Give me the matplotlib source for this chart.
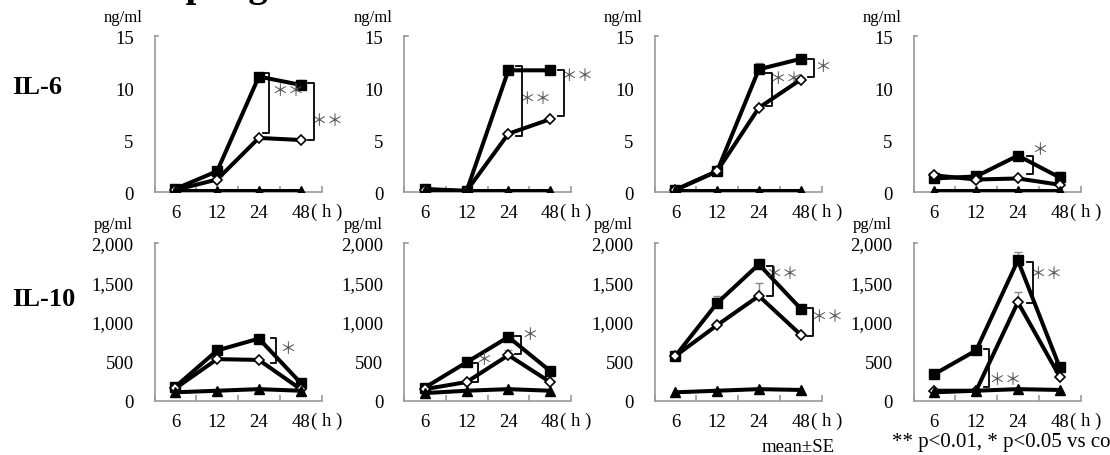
import matplotlib
matplotlib.use("Agg")
import matplotlib.pyplot as plt
from matplotlib.ticker import FuncFormatter

plt.rcParams['font.family'] = ['Liberation Serif', 'DejaVu Serif']

# ---- data ----
hours = ['6', '12', '24', '48']

# IL-6 (ng/ml), four conditions
il6_sq = [[0.3, 2.0, 11.1, 10.3], [0.3, 0.1, 11.7, 11.7],
          [0.2, 2.0, 11.8, 12.8], [1.3, 1.5, 3.5, 1.4]]
il6_dia = [[0.2, 1.2, 5.2, 5.0], [0.2, 0.1, 5.6, 7.0],
           [0.2, 2.0, 8.1, 10.8], [1.6, 1.2, 1.3, 0.7]]
il6_tri = [[0.1, 0.1, 0.1, 0.1], [0.1, 0.1, 0.1, 0.1],
           [0.1, 0.1, 0.1, 0.1], [0.1, 0.1, 0.1, 0.1]]
il6_sq_err = [[0, 0, 0, 0.5], [0, 0, 0, 0], [0, 0, 0.6, 0], [0, 0, 0, 0.5]]
il6_dia_err = [[0, 0, 0, 0], [0, 0, 0, 0], [0, 0, 0, 0], [0, 0, 0, 0]]

# IL-10 (pg/ml)
il10_sq = [[180, 640, 790, 230], [170, 490, 810, 380],
           [570, 1240, 1730, 1170], [340, 640, 1780, 430]]
il10_dia = [[160, 530, 520, 150], [150, 240, 580, 240],
            [570, 960, 1330, 840], [130, 130, 1250, 310]]
il10_tri = [[110, 130, 150, 130], [100, 130, 150, 130],
            [110, 130, 150, 140], [110, 130, 150, 140]]
il10_sq_err = [[0, 0, 0, 0], [0, 0, 0, 0], [0, 90, 0, 0], [0, 0, 110, 0]]
il10_dia_err = [[0, 0, 0, 0], [0, 0, 70, 0], [0, 40, 160, 0], [0, 0, 130, 0]]

# significance brackets: (panel, x, y_low, y_high, label, label_x, label_y)
il6_sig = [(0, 2.75, 5.65, 11.4, '＊＊', 3.19, 9.8),
           (0, 3.81, 5.03, 10.5, '＊＊', 4.14, 6.9),
           (1, 2.82, 5.4, 12.1, '＊＊', 3.14, 9.0),
           (1, 3.84, 7.3, 11.7, '＊＊', 4.14, 11.25),
           (2, 2.82, 8.3, 11.4, '＊＊', 3.14, 10.96),
           (2, 3.82, 11.1, 12.8, '＊', 4.02, 12.1),
           (3, 2.86, 1.7, 3.5, '＊', 3.02, 4.1)]
il10_sig = [(0, 2.92, 480, 800, '＊', 3.2, 667),
            (1, 1.78, 245, 480, '＊', 1.9, 530),
            (1, 2.80, 600, 827, '＊', 3.02, 848),
            (2, 2.83, 1333, 1713, '＊＊', 3.06, 1616),
            (2, 3.79, 827, 1177, '＊＊', 4.14, 1067),
            (3, 2.86, 1240, 1755, '＊＊', 3.17, 1620),
            (3, 1.82, 173, 658, '＊＊', 2.19, 278)]

W, H = 1110, 456
fig = plt.figure(figsize=(W / 100, H / 100), dpi=100)

lefts = [154.5, 404, 654.5, 913.5]
pw = 167
grey = '#9a9a9a'
fs = 13.5


def px_ax(left, top, bottom):
    return fig.add_axes([left / W, 1 - bottom / H, pw / W, (bottom - top) / H])


def draw_panel(ax, sq, dia, tri, sq_err, dia_err, ymax, yticks, unit, unit_dx,
               sigs, idx):
    xs = [i + 0.5 for i in range(len(hours))]
    ax.errorbar(xs, sq, yerr=[[0] * 4, sq_err], fmt='none', ecolor='#888888',
                elinewidth=1, capsize=3, zorder=1)
    ax.errorbar(xs, dia, yerr=[[0] * 4, dia_err], fmt='none', ecolor='#888888',
                elinewidth=1, capsize=3, zorder=1)
    ax.plot(xs, sq, color='black', lw=2.9, marker='s', ms=7.2, mfc='black',
            mec='black', zorder=3)
    ax.plot(xs, dia, color='black', lw=2.9, marker='D', ms=5.4, mfc='white',
            mec='black', mew=1.2, zorder=4)
    ax.plot(xs, tri, color='black', lw=2.9, marker='^', ms=7.5, mfc='black',
            mec='black', zorder=5)

    ax.set_xlim(0, 4)
    ax.set_ylim(0, ymax)
    for s in ['top', 'right']:
        ax.spines[s].set_visible(False)
    for s in ['left', 'bottom']:
        ax.spines[s].set_color(grey)
        ax.spines[s].set_linewidth(1.2)

    ax.set_xticks([0, 1, 2, 3, 4])
    ax.set_xticklabels([])
    ax.tick_params(axis='x', which='major', direction='in', length=4,
                   color=grey, width=1.2)
    ax.set_xticks(xs, minor=True)
    ax.set_xticklabels(hours, minor=True, fontsize=fs)
    ax.tick_params(axis='x', which='minor', length=0, pad=9)
    ax.annotate('( h )', xy=(3.74, 0), xycoords=('data', 'axes fraction'),
                xytext=(0, -7.5), textcoords='offset points', ha='left',
                va='top', fontsize=fs, annotation_clip=False)

    ax.set_yticks(yticks)
    ax.yaxis.set_major_formatter(FuncFormatter(lambda v, p: f'{int(v):,}'))
    ax.tick_params(axis='y', length=0, pad=15, labelsize=fs)
    ax.plot([0, 0.09], [ymax, ymax], color=grey, lw=1.2, clip_on=False)

    ax.annotate(unit, xy=(0, 1), xycoords='axes fraction',
                xytext=(unit_dx, 19), textcoords='offset pixels', ha='center',
                va='center', fontsize=12, annotation_clip=False)

    for p, x, ylo, yhi, lab, lx, ly in sigs:
        if p != idx:
            continue
        stub = 0.14
        ax.plot([x - stub, x, x, x - stub], [ylo, ylo, yhi, yhi],
                color='black', lw=1.3, clip_on=False, zorder=6)
        ax.text(lx, ly, lab, ha='center', va='center', fontsize=12,
                color='#555555', family=['Noto Sans CJK JP', 'DejaVu Sans'],
                clip_on=False)


for i in range(4):
    ax = px_ax(lefts[i], 37, 193)
    draw_panel(ax, il6_sq[i], il6_dia[i], il6_tri[i], il6_sq_err[i],
               il6_dia_err[i], 15, [0, 5, 10, 15], 'ng/ml', -31, il6_sig, i)
    ax2 = px_ax(lefts[i], 244, 402)
    draw_panel(ax2, il10_sq[i], il10_dia[i], il10_tri[i], il10_sq_err[i],
               il10_dia_err[i], 2000, [0, 500, 1000, 1500, 2000], 'pg/ml',
               -41, il10_sig, i)

fig.text(300 / W, 1 + 4 / H, 'Peritoneal macrophages', ha='right',
         va='baseline', fontsize=28, fontweight='bold')
fig.text(12 / W, 1 - 88 / H, 'IL-6', ha='left', va='center', fontsize=19,
         fontweight='bold')
fig.text(12 / W, 1 - 300 / H, 'IL-10', ha='left', va='center', fontsize=19,
         fontweight='bold')
fig.text(798 / W, 1 - 448 / H, 'mean±SE', ha='center', va='center',
         fontsize=fs)
fig.text(892 / W, 1 - 443 / H, '** p<0.01, * p<0.05 vs control', ha='left',
         va='center', fontsize=15)

fig.savefig('out.png', dpi=100)
